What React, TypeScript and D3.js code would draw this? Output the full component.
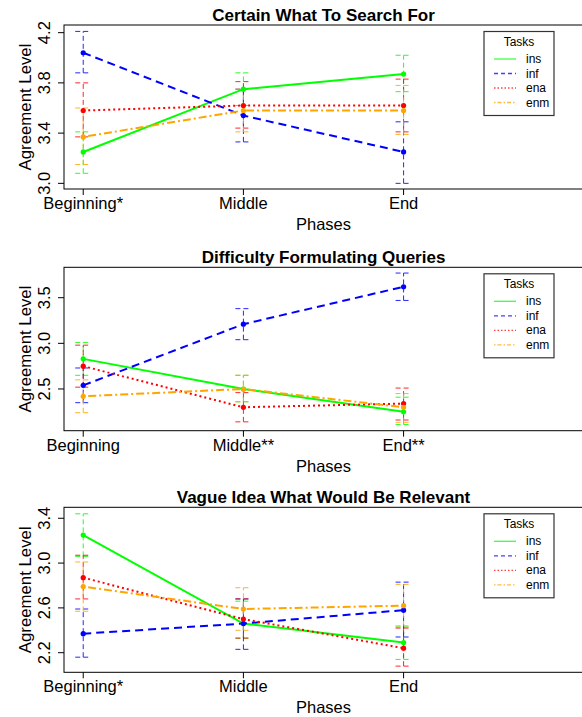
import React from 'react';
import * as d3 from 'd3';

// task order: ins, inf, ena, enm
const tasks = ['ins', 'inf', 'ena', 'enm'];
const taskColors = ['#00ff00', '#0000ff', '#ff0000', '#ffa500'];
const taskDash = ['none', '8,5', '2,3', '2,3,8,3'];
const legendDash = ['none', '4,3', '1.5,2', '1.5,2,4,2'];

const titles = [
    'Certain What To Search For',
    'Difficulty Formulating Queries',
    'Vague Idea What Would Be Relevant',
];

const phaseLabels1 = ['Beginning*', 'Middle', 'End'];
const phaseLabels2 = ['Beginning', 'Middle**', 'End**'];
const phaseLabels3 = ['Beginning*', 'Middle', 'End'];

const yTicks1 = [3.0, 3.4, 3.8, 4.2];
const yTicks2 = [2.5, 3.0, 3.5];
const yTicks3 = [2.2, 2.6, 3.0, 3.4];

// Certain What To Search For
const certainMean = [
    [3.25, 3.75, 3.87],
    [4.04, 3.54, 3.25],
    [3.58, 3.62, 3.62],
    [3.37, 3.58, 3.58],
];
const certainLow = [
    [3.08, 3.62, 3.73],
    [3.88, 3.33, 3.0],
    [3.37, 3.44, 3.41],
    [3.15, 3.41, 3.39],
];
const certainHigh = [
    [3.41, 3.88, 4.02],
    [4.21, 3.75, 3.49],
    [3.8, 3.81, 3.83],
    [3.6, 3.75, 3.78],
];

// Difficulty Formulating Queries
const difficultyMean = [
    [2.83, 2.5, 2.25],
    [2.54, 3.21, 3.62],
    [2.75, 2.3, 2.34],
    [2.42, 2.5, 2.3],
];
const difficultyLow = [
    [2.65, 2.36, 2.11],
    [2.35, 3.04, 3.47],
    [2.52, 2.14, 2.16],
    [2.24, 2.36, 2.13],
];
const difficultyHigh = [
    [3.01, 2.65, 2.41],
    [2.73, 3.38, 3.77],
    [2.98, 2.46, 2.51],
    [2.6, 2.65, 2.45],
];

// Vague Idea What Would Be Relevant
const vagueMean = [
    [3.25, 2.46, 2.29],
    [2.37, 2.46, 2.58],
    [2.87, 2.5, 2.24],
    [2.79, 2.59, 2.62],
];
const vagueLow = [
    [3.06, 2.33, 2.14],
    [2.16, 2.23, 2.34],
    [2.68, 2.33, 2.08],
    [2.57, 2.4, 2.44],
];
const vagueHigh = [
    [3.44, 2.66, 2.43],
    [2.59, 2.68, 2.83],
    [3.07, 2.68, 2.42],
    [3.01, 2.78, 2.81],
];

const font = '"Liberation Sans", Arial, Helvetica, sans-serif';
const left = 64;
const right = 583;

interface PanelProps {
    title: string;
    phases: string[];
    yTicks: number[];
    yDomain: [number, number];
    top: number;
    bottom: number;
    mean: number[][];
    low: number[][];
    high: number[][];
}

const Panel: React.FC<PanelProps> = ({ title, phases, yTicks, yDomain, top, bottom, mean, low, high }) => {
    const x = d3.scaleLinear().domain([0.88, 4.12]).range([left, right]);
    const y = d3.scaleLinear().domain(yDomain).range([bottom, top]);
    const fmt = d3.format('.1f');
    const line = d3.line<number>()
        .x((_, i) => x(i + 1))
        .y(d => y(d));
    const midX = (left + right) / 2;
    const legX = 484;
    const legY = top + 6.5;

    return (
        <g>
            <text x={midX} y={top - 4.5} textAnchor="middle" fontFamily={font} fontWeight="bold" fontSize={17}>{title}</text>

            {/* error bars */}
            {mean.map((_, s) => phases.map((__, i) => {
                const cx = x(i + 1);
                return (
                    <g key={`e${s}-${i}`} stroke={taskColors[s]} strokeWidth={1} strokeDasharray="5,3" opacity={0.85}>
                        <line x1={cx} x2={cx} y1={y(low[s][i])} y2={y(high[s][i])} />
                        <line x1={cx - 8} x2={cx + 8} y1={y(low[s][i])} y2={y(low[s][i])} />
                        <line x1={cx - 8} x2={cx + 8} y1={y(high[s][i])} y2={y(high[s][i])} />
                    </g>
                );
            }))}

            {/* lines */}
            {mean.map((vals, s) => (
                <path key={`l${s}`} d={line(vals) || ''} fill="none" stroke={taskColors[s]} strokeWidth={2}
                    strokeDasharray={taskDash[s] === 'none' ? undefined : taskDash[s]} />
            ))}
            {mean.map((vals, s) => vals.map((v, i) => (
                <circle key={`p${s}-${i}`} cx={x(i + 1)} cy={y(v)} r={2.6} fill={taskColors[s]} />
            )))}

            {/* frame, right side runs off the page */}
            <rect x={left} y={top} width={right + 4 - left} height={bottom - top} fill="none" stroke="#000" strokeWidth={1} />

            {/* x axis */}
            {phases.map((p, i) => (
                <g key={`x${i}`}>
                    <line x1={x(i + 1)} x2={x(i + 1)} y1={bottom} y2={bottom + 6} stroke="#000" />
                    <text x={x(i + 1)} y={bottom + 20} textAnchor="middle" fontFamily={font} fontSize={16.5}>{p}</text>
                </g>
            ))}
            <text x={midX} y={bottom + 41} textAnchor="middle" fontFamily={font} fontSize={16.5}>Phases</text>

            {/* y axis */}
            {yTicks.map(t => (
                <g key={`y${t}`}>
                    <line x1={left - 6} x2={left} y1={y(t)} y2={y(t)} stroke="#000" />
                    <text transform={`translate(49.5,${y(t)}) rotate(-90)`} textAnchor="middle" fontFamily={font} fontSize={16.5}>{fmt(t)}</text>
                </g>
            ))}
            <text transform={`translate(30.5,${(top + bottom) / 2}) rotate(-90)`} textAnchor="middle" fontFamily={font} fontSize={16.8}>Agreement Level</text>

            {/* legend */}
            <rect x={legX} y={legY} width={70} height={84} fill="#fff" stroke="#333" strokeWidth={1.2} />
            <text x={legX + 35} y={legY + 14} textAnchor="middle" fontFamily={font} fontSize={12}>Tasks</text>
            {tasks.map((t, s) => (
                <g key={`g${t}`}>
                    <line x1={legX + 10} x2={legX + 32} y1={legY + 27.5 + s * 14.5} y2={legY + 27.5 + s * 14.5}
                        stroke={taskColors[s]} strokeWidth={1.3} opacity={0.75}
                        strokeDasharray={legendDash[s] === 'none' ? undefined : legendDash[s]} />
                    <text x={legX + 42} y={legY + 31.5 + s * 14.5} fontFamily={font} fontSize={12}>{t}</text>
                </g>
            ))}
        </g>
    );
};

const App: React.FC = () => {
    return (
        <svg width={582} height={717} style={{ position: 'absolute', left: 0, top: 0, background: '#fff' }}>
            <rect width={582} height={717} fill="#fff" />
            <Panel title={titles[0]} phases={phaseLabels1} yTicks={yTicks1} yDomain={[2.955, 4.261]}
                top={25} bottom={189} mean={certainMean} low={certainLow} high={certainHigh} />
            <Panel title={titles[1]} phases={phaseLabels2} yTicks={yTicks2} yDomain={[2.043, 3.833]}
                top={267.3} bottom={430.7} mean={difficultyMean} low={difficultyLow} high={difficultyHigh} />
            <Panel title={titles[2]} phases={phaseLabels3} yTicks={yTicks3} yDomain={[2.025, 3.498]}
                top={507.3} bottom={672.3} mean={vagueMean} low={vagueLow} high={vagueHigh} />
        </svg>
    );
};

export default App;
